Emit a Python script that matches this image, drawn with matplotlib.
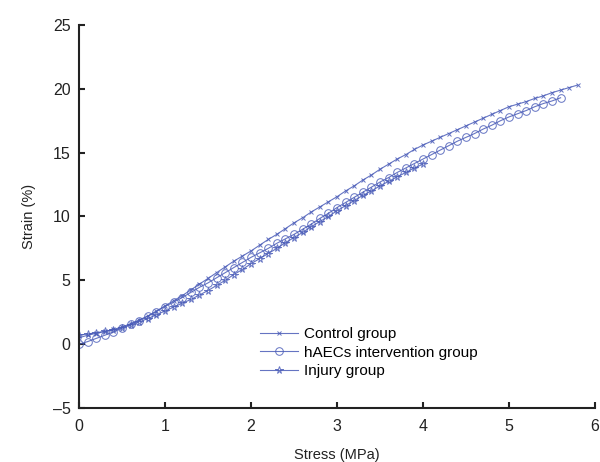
import numpy as np
import matplotlib
matplotlib.use('Agg')
import matplotlib.pyplot as plt

plt.rcParams['font.family'] = ['Liberation Sans', 'DejaVu Sans']

# stress (MPa), sampled every 0.1
stress_control = np.round(np.arange(0, 5.81, 0.1), 1)
stress_haecs = np.round(np.arange(0, 5.61, 0.1), 1)
stress_injury = np.round(np.arange(0, 4.01, 0.1), 1)

strain_control = [0.5, 0.7, 0.85, 1.0, 1.15, 1.35, 1.6, 1.9, 2.2, 2.6,
                  3.0, 3.4, 3.8, 4.25, 4.7, 5.15, 5.6, 6.05, 6.5, 6.9,
                  7.3, 7.75, 8.2, 8.6, 9.05, 9.5, 9.9, 10.35, 10.75, 11.15,
                  11.55, 12.0, 12.4, 12.85, 13.25, 13.7, 14.1, 14.5, 14.85, 15.25,
                  15.6, 15.9, 16.2, 16.5, 16.8, 17.1, 17.4, 17.7, 18.0, 18.3,
                  18.6, 18.8, 19.0, 19.25, 19.45, 19.7, 19.9, 20.1, 20.3]

strain_haecs = [0.0, 0.2, 0.45, 0.7, 0.95, 1.25, 1.55, 1.85, 2.2, 2.55,
                2.95, 3.3, 3.65, 4.05, 4.45, 4.8, 5.2, 5.6, 6.0, 6.4,
                6.8, 7.15, 7.5, 7.9, 8.25, 8.6, 9.0, 9.4, 9.85, 10.25,
                10.7, 11.1, 11.5, 11.9, 12.3, 12.7, 13.05, 13.45, 13.8, 14.15,
                14.5, 14.85, 15.2, 15.55, 15.9, 16.2, 16.5, 16.85, 17.15, 17.5,
                17.8, 18.05, 18.3, 18.6, 18.85, 19.05, 19.3]

strain_injury = [0.7, 0.8, 0.9, 1.0, 1.1, 1.3, 1.5, 1.75, 2.0, 2.3,
                 2.6, 2.9, 3.2, 3.5, 3.85, 4.2, 4.6, 5.0, 5.45, 5.85,
                 6.3, 6.7, 7.1, 7.5, 7.95, 8.35, 8.75, 9.2, 9.6, 10.0,
                 10.45, 10.85, 11.25, 11.65, 12.0, 12.4, 12.75, 13.1, 13.45, 13.8,
                 14.1]

blue = '#4a5cb8'
dark = '#222222'

fig = plt.figure(figsize=(6, 4.62), dpi=100)
ax = fig.add_axes([79 / 600, 1 - 408 / 462, 516 / 600, 383 / 462])

ax.plot(stress_control, strain_control, color=blue, lw=0.8, marker='x',
        ms=3, mew=0.7, label='Control group', alpha=0.85)
ax.plot(stress_haecs, strain_haecs, color=blue, lw=0.8, marker='o',
        ms=5.5, mew=0.7, mfc='none', label='hAECs intervention group', alpha=0.85)
ax.plot(stress_injury, strain_injury, color=blue, lw=0.8, marker='*',
        ms=5.5, mew=0.7, mfc='none', label='Injury group', alpha=0.85)

ax.set_xlim(0, 6)
ax.set_ylim(-5, 25)
ax.set_xticks(range(0, 7))
ax.set_yticks(range(-5, 26, 5))
ax.set_yticklabels(['\u20135', '0', '5', '10', '15', '20', '25'])
for s in ['top', 'right']:
    ax.spines[s].set_visible(False)
for s in ['left', 'bottom']:
    ax.spines[s].set_linewidth(1.5)
    ax.spines[s].set_color(dark)
ax.tick_params(direction='in', length=4, width=1.5, color=dark,
               labelsize=11.5, labelcolor=dark)
ax.tick_params(axis='x', pad=8)
ax.tick_params(axis='y', pad=6)
ax.set_xlabel('Stress (MPa)', fontsize=10.5, labelpad=10, color=dark)
ax.set_ylabel('Strain (%)', fontsize=10.5, labelpad=12, color=dark)

ax.legend(loc='upper left', bbox_to_anchor=(0.351, 0.211), frameon=False,
          fontsize=11, handlelength=2.5, handletextpad=0.35,
          labelspacing=0.3, borderpad=0, borderaxespad=0)

fig.savefig('out.png', dpi=100)
